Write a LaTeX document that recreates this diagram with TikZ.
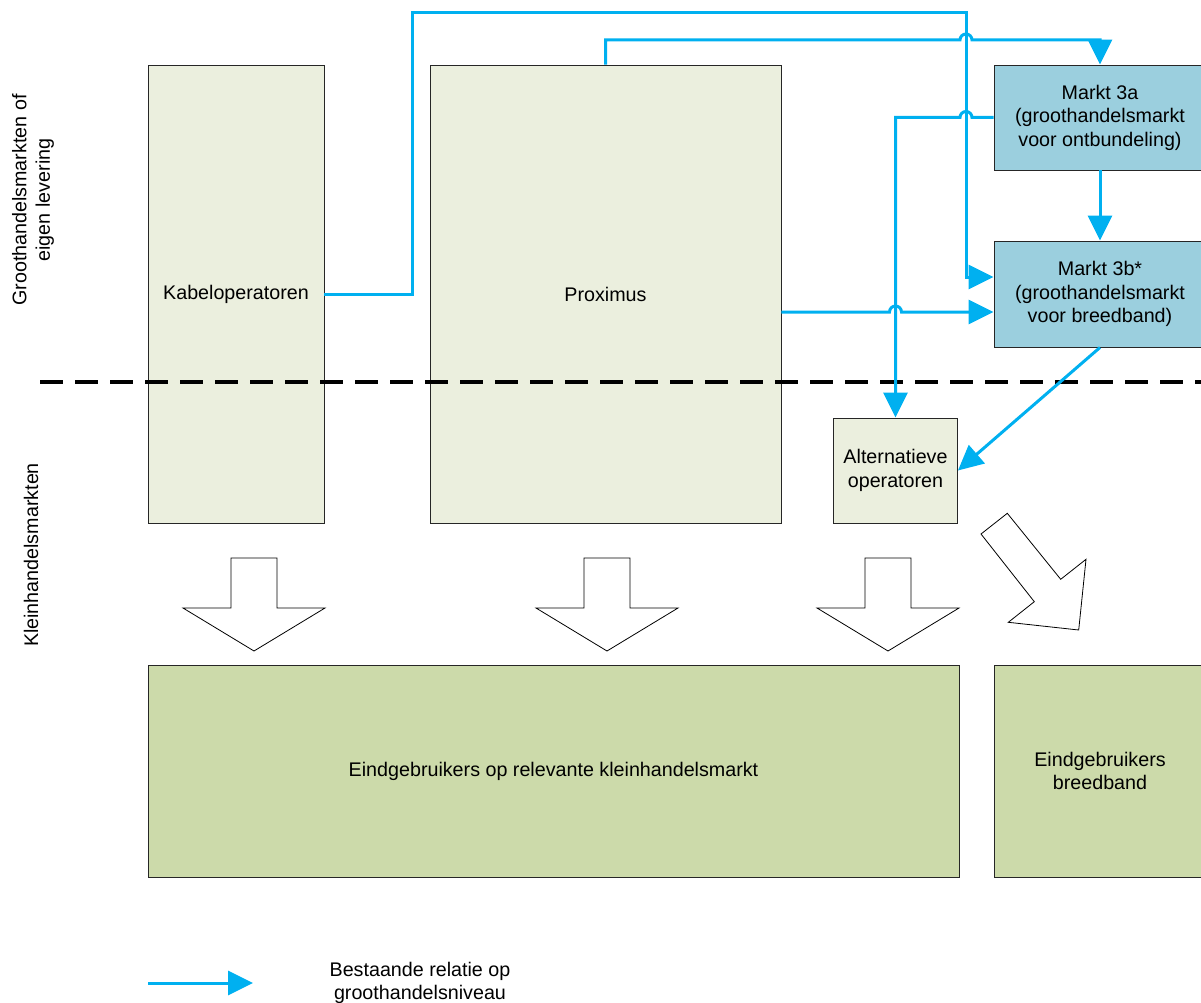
\documentclass[tikz,border=0pt]{standalone}
\usepackage{fontspec}
\setmainfont{Liberation Sans}
\usepackage{tikz}
\usetikzlibrary{arrows.meta,positioning}
\definecolor{operatorfill}{RGB}{235,239,222}
\definecolor{marktfill}{RGB}{155,207,222}
\definecolor{userfill}{RGB}{204,218,170}
\definecolor{linkblue}{RGB}{0,176,240}

\begin{document}
\fontsize{19.7}{23.5}\selectfont
\begin{tikzpicture}[x=1pt,y=-1pt,
    box/.style={rectangle,draw=black!85,line width=0.9pt,align=center,inner sep=0pt},
    link/.style={draw=linkblue,line width=3pt,-{Triangle[length=25pt,width=24pt]}},
    plainlink/.style={draw=linkblue,line width=3pt},
    blockarrow/.style={draw=black,line width=0.8pt,fill=white,line join=miter},
    divider/.style={draw=black,line width=3.5pt,dash pattern=on 23pt off 12pt}]
    \useasboundingbox (0,0) rectangle (1201,1003);

    % side labels
    \node[rotate=90,align=center] (lblgroot) at (33,200) {Groothandelsmarkten of\\eigen levering};
    \node[rotate=90] (lblklein) at (31,555) {Kleinhandelsmarkten};

    % operators
    \node[box,fill=operatorfill,minimum width=176,minimum height=458] at (236,294) (kabel) {Kabeloperatoren};
    \node[box,fill=operatorfill,minimum width=351,minimum height=458] at (605.5,294) (prox) {Proximus};
    \node[box,fill=operatorfill,minimum width=124,minimum height=105] at (895.5,470.5) (alt) {Alternatieve\\operatoren};

    % wholesale markets
    \node[box,fill=marktfill,minimum width=212,minimum height=105] at (1100,117.5) (m3a) {Markt 3a\\(groothandelsmarkt\\voor ontbundeling)};
    \node[box,fill=marktfill,minimum width=212,minimum height=106] at (1100,294) (m3b) {Markt 3b*\\(groothandelsmarkt\\voor breedband)};

    % end users
    \node[box,fill=userfill,minimum width=811,minimum height=212] at (553.5,771) (eind) {Eindgebruikers op relevante kleinhandelsmarkt};
    \node[box,fill=userfill,minimum width=212,minimum height=212] at (1100,771) (eindbb) {Eindgebruikers\\breedband};

    % block arrows to end users
    \foreach \cx in {254,607,888}
        \draw[blockarrow] ({\cx-23},558) -- ({\cx+23},558) -- ({\cx+23},608) -- ({\cx+71},608)
            -- (\cx,651) -- ({\cx-71},608) -- ({\cx-23},608) -- cycle;
    \draw[blockarrow] (1007.3,513.3) -- (981,534) -- (1034.3,601.7) -- (1008.3,622.3)
        -- (1078.7,630) -- (1086,559.3) -- (1060.7,579.3) -- cycle;

    % wholesale / retail border
    \draw[divider] (40,382) -- (1215,382);

    % wholesale relations
    \draw[link] (kabel.east) -| (412,13) -- (966,13) |- ([yshift=17pt]m3b.west);
    \draw[link] (prox.north) |- (960,40) arc[start angle=180,end angle=0,radius=6pt] -| (m3a.north);
    \draw[link] (m3a.west) -- (972,117.5) arc[start angle=0,end angle=180,radius=6pt] -| (alt.north);
    \draw[link] (m3a.south) -- (m3b.north);
    \draw[link] ([yshift=-18pt]prox.east) -- (889.5,312) arc[start angle=180,end angle=0,radius=6pt] -- ([yshift=-18pt]m3b.west);
    \draw[link] (m3b.south) -- (alt.east);

    % legend
    \coordinate (legstart) at (148,983);
    \coordinate (legend) at (253,983);
    \draw[link] (legstart) -- (legend);
    \node[align=center] at (420,983) (legtext) {Bestaande relatie op\\groothandelsniveau};
\end{tikzpicture}
\end{document}
